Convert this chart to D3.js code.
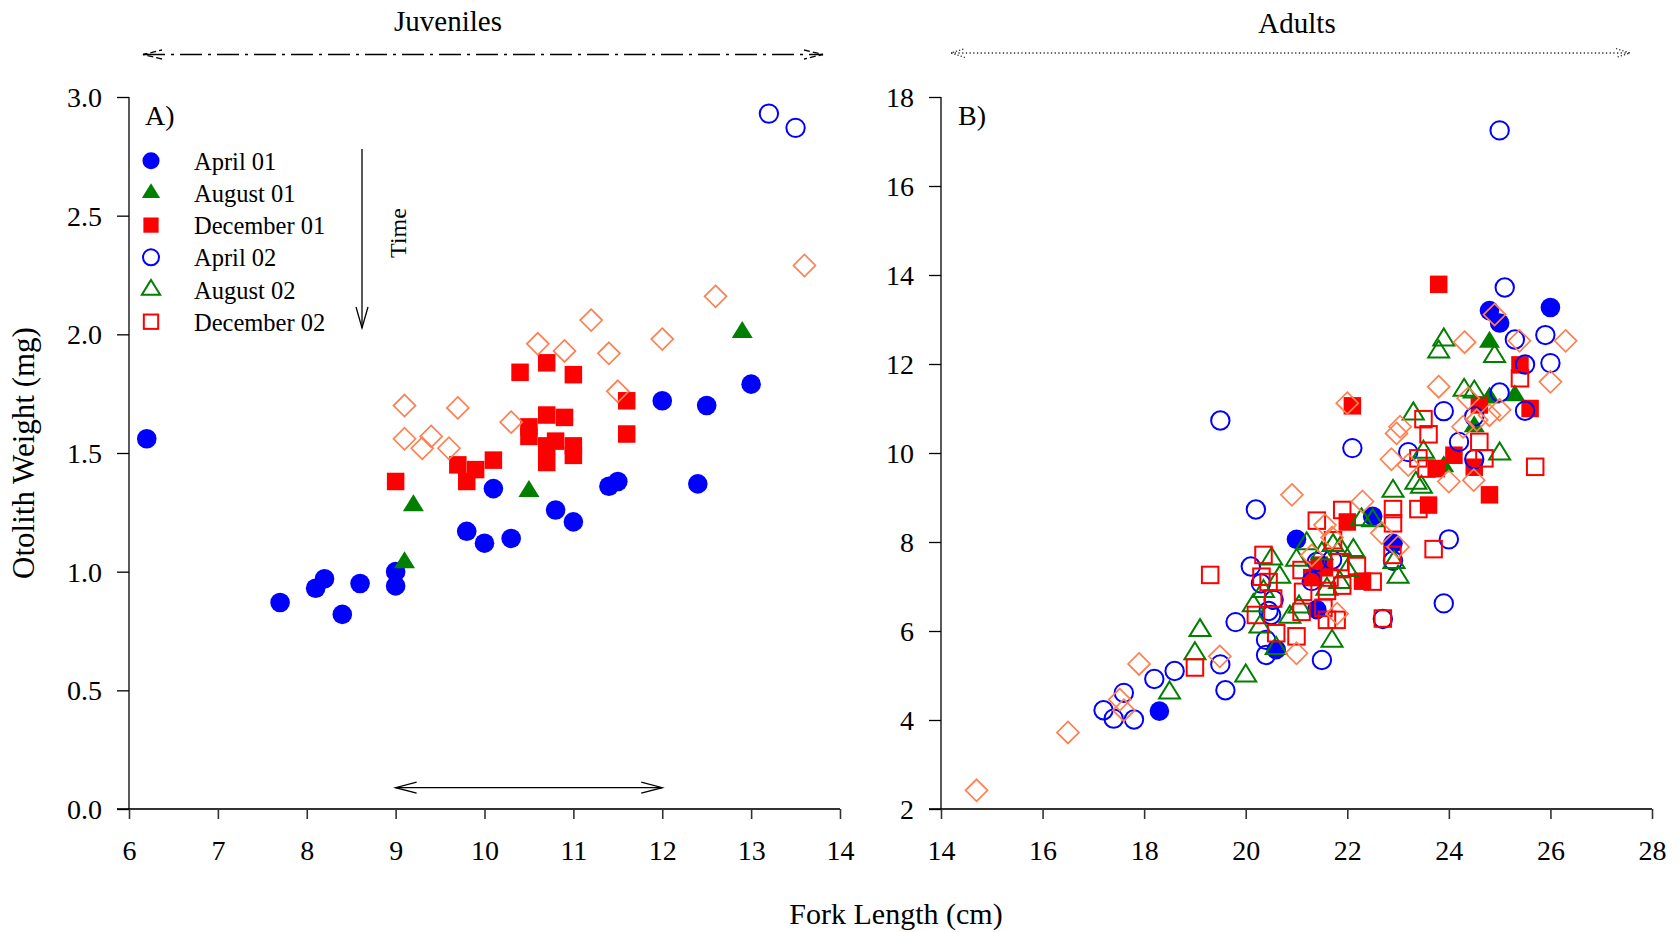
<!DOCTYPE html>
<html><head><meta charset="utf-8">
<script src="https://cdn.jsdelivr.net/npm/d3@7"></script>
<style>
html,body{margin:0;padding:0;background:#fff;}
text{font-family:"Liberation Serif","Times New Roman",serif;fill:#000;}
</style></head>
<body><svg id="chart" width="1679" height="932"></svg>
<script>
// ---------------- DATA ----------------
const seriesNames = ["April 01","August 01","December 01","April 02","August 02","December 02"];
const xTicksA = [6,7,8,9,10,11,12,13,14];
const yTicksA = [0,0.5,1.0,1.5,2.0,2.5,3.0];
const xTicksB = [14,16,18,20,22,24,26,28];
const yTicksB = [2,4,6,8,10,12,14,16,18];
const panelLabels = ["A)","B)"];
const groupTitles = ["Juveniles","Adults"];
const xTitle = "Fork Length (cm)";
const yTitle = "Otolith Weight (mg)";
const timeLabel = "Time";
const juvRangeArrow = [9,12,0.09];

// Juveniles (panel A)
const juvApril01 = [[6.2,1.56],[7.7,0.87],[8.1,0.93],[8.2,0.97],[8.4,0.82],[8.6,0.95],[9.0,1.0],[9.0,0.94],[9.8,1.17],[10.0,1.12],[10.3,1.14],[10.1,1.35],[10.8,1.26],[11.0,1.21],[11.4,1.36],[11.5,1.38],[12.0,1.72],[12.5,1.70],[12.4,1.37],[13.0,1.79]];
const juvAugust01 = [[9.1,1.04],[9.2,1.28],[10.5,1.34],[12.9,2.01]];
const juvDecember01 = [[9.0,1.38],[9.7,1.45],[9.8,1.38],[9.9,1.43],[10.1,1.47],[10.4,1.84],[10.5,1.61],[10.5,1.57],[10.7,1.88],[10.7,1.66],[10.7,1.53],[10.7,1.46],[10.8,1.55],[10.9,1.65],[11.0,1.83],[11.0,1.53],[11.0,1.49],[11.6,1.72],[11.6,1.58]];
const juvApril02 = [[13.2,2.93],[13.5,2.87]];
const juvAugust02 = [];
const juvDecember02 = [];
const juvOther = [[9.1,1.70],[9.7,1.69],[9.1,1.56],[9.3,1.52],[9.4,1.57],[9.6,1.52],[10.3,1.63],[10.6,1.96],[10.9,1.93],[11.2,2.06],[11.4,1.92],[11.5,1.76],[12.0,1.98],[12.6,2.16],[13.6,2.29]];

// Adults (panel B)
const adultApril01 = [[18.3,4.2],[20.6,5.58],[21.4,6.48],[21.0,8.06],[22.5,8.58],[22.9,7.97],[24.8,13.2],[25.0,12.92],[26.0,13.27]];
const adultAugust01 = [[24.8,12.5],[24.8,11.25],[25.3,11.3],[24.5,10.6],[23.9,9.7]];
const adultDecember01 = [[23.8,13.79],[25.4,11.98],[24.6,11.08],[25.6,11.0],[22.1,11.06],[24.1,9.95],[23.75,9.65],[24.5,9.68],[24.8,9.06],[23.6,8.83],[22.0,8.45],[21.45,7.48],[21.55,7.42],[21.3,7.2],[22.3,7.12]];
const adultApril02 = [[25.0,17.25],[25.1,13.72],[25.3,12.55],[25.9,12.65],[25.5,11.99],[26.0,12.02],[25.0,11.36],[25.5,10.95],[23.9,10.94],[24.5,10.82],[24.2,10.25],[22.1,10.11],[23.2,10.02],[24.5,9.86],[19.5,10.73],[20.2,8.73],[24.0,8.06],[22.9,7.58],[21.7,7.6],[20.1,7.45],[21.3,7.12],[20.3,7.07],[20.55,6.7],[23.9,6.62],[22.7,6.27],[20.5,6.36],[20.45,6.45],[19.8,6.2],[20.4,5.8],[20.4,5.46],[21.5,5.35],[19.5,5.25],[19.6,4.67],[18.2,4.92],[18.6,5.1],[17.6,4.61],[17.2,4.22],[17.4,4.03],[17.8,4.01],[21.4,7.55]];
const adultAugust02 = [[23.9,12.55],[23.8,12.28],[24.9,12.18],[24.3,11.42],[24.5,11.38],[23.3,10.89],[23.5,10.03],[25.0,9.99],[23.35,9.33],[23.46,9.24],[22.9,9.15],[22.28,8.51],[22.5,8.49],[21.2,7.97],[21.72,7.93],[21.86,7.86],[22.12,7.82],[21.0,7.6],[22.0,7.37],[23.0,7.22],[22.92,7.55],[20.51,7.63],[20.67,7.22],[20.15,6.58],[19.1,6.02],[19.0,5.5],[18.5,4.62],[20.0,5.0],[21.7,5.78],[20.6,5.62],[20.28,6.1],[20.87,6.32],[21.05,6.55],[21.6,6.95],[21.85,7.1],[20.35,6.9],[21.5,7.75]];
const adultDecember02 = [[25.4,11.68],[23.5,10.76],[23.6,10.42],[24.6,10.25],[23.4,9.88],[24.7,9.88],[25.7,9.69],[23.56,9.65],[22.9,8.74],[23.4,8.74],[22.9,8.42],[21.9,8.72],[21.4,8.48],[21.72,8.04],[22.89,7.71],[23.7,7.84],[22.19,7.46],[22.5,7.11],[21.1,7.37],[20.35,7.71],[20.31,7.22],[20.45,7.1],[19.3,7.26],[21.13,6.88],[21.6,6.9],[21.9,7.02],[20.54,6.73],[21.1,6.43],[20.2,6.36],[22.7,6.28],[21.6,6.25],[21.79,6.25],[20.6,5.95],[21.0,5.88],[19.0,5.18],[21.53,6.52],[21.85,7.55],[21.65,7.2]];
const adultOther = [[14.7,2.42],[16.5,3.72],[17.52,4.46],[17.6,4.22],[17.9,5.26],[19.49,5.43],[21.0,5.5],[20.91,9.06],[21.56,8.38],[22.3,8.91],[22.0,11.12],[22.68,8.2],[23.0,7.89],[21.8,6.39],[23.8,11.49],[24.31,12.49],[25.39,12.52],[26.3,12.52],[26.0,11.6],[24.9,13.11],[24.38,11.23],[24.8,10.85],[25.0,10.97],[23.04,10.59],[22.97,10.44],[24.28,10.59],[24.55,10.74],[22.87,9.86],[23.2,9.73],[24.0,9.36],[24.49,9.39],[21.3,7.7],[21.7,8.1]];

// ---------------- STYLE ----------------
const BLUE="#0000ff", GREEN="#007f00", RED="#ff0000", ORANGE="#ff7f50";
const markerStyles = [
  {type:"circle", fill:true, color:BLUE},
  {type:"tri", fill:true, color:GREEN},
  {type:"square", fill:true, color:RED},
  {type:"circle", fill:false, color:BLUE},
  {type:"tri", fill:false, color:GREEN},
  {type:"square", fill:false, color:RED},
  {type:"diamond", fill:false, color:ORANGE}
];

const svg = d3.select("#chart");
svg.append("rect").attr("width",1679).attr("height",932).attr("fill","#fff");

function drawMarker(g, st, cx, cy, s){
  s = s || 1;
  const sw = st.fill ? 0 : 2;
  let el;
  if(st.type==="circle"){
    el = g.append("circle").attr("cx",cx).attr("cy",cy).attr("r",(st.fill?9.8:9.2)*s);
  } else if(st.type==="square"){
    const a = (st.fill?17.5:16.5)*s;
    el = g.append("rect").attr("x",cx-a/2).attr("y",cy-a/2).attr("width",a).attr("height",a);
  } else if(st.type==="tri"){
    const p = d3.path();
    p.moveTo(cx, cy-11*s); p.lineTo(cx+10.5*s, cy+6*s); p.lineTo(cx-10.5*s, cy+6*s); p.closePath();
    el = g.append("path").attr("d",p.toString()).attr("stroke-linejoin","miter");
  } else {
    const d = 11*s, p = d3.path();
    p.moveTo(cx, cy-d); p.lineTo(cx+d, cy); p.lineTo(cx, cy+d); p.lineTo(cx-d, cy); p.closePath();
    el = g.append("path").attr("d",p.toString());
  }
  if(st.fill){ el.attr("fill",st.color); }
  else { el.attr("fill","none").attr("stroke",st.color).attr("stroke-width", st.type==="diamond"?1.7:sw); }
}

function panel(xs, ys, xTicks, yTicks, yFmt, seriesList, label, labelX){
  const g = svg.append("g");
  const xAx = g.append("g").attr("transform",`translate(0,${ys.range()[0]})`)
    .call(d3.axisBottom(xs).tickValues(xTicks).tickSize(10).tickSizeOuter(0).tickFormat(d3.format("d")));
  xAx.select(".domain").remove();
  xAx.selectAll(".tick line").attr("stroke","#333").attr("stroke-width",1.6);
  xAx.selectAll("text").attr("y",51).attr("dy",null).style("font-size","28px").style("font-family","Liberation Serif");
  g.append("line").attr("x1",xs.range()[0]-12).attr("x2",xs.range()[1])
    .attr("y1",ys.range()[0]).attr("y2",ys.range()[0]).attr("stroke","#333").attr("stroke-width",2.2);
  const yAx = g.append("g").attr("transform",`translate(${xs.range()[0]},0)`)
    .call(d3.axisLeft(ys).tickValues(yTicks).tickSize(12).tickSizeOuter(0).tickFormat(yFmt));
  yAx.select(".domain").remove();
  yAx.selectAll(".tick line").attr("stroke","#000").attr("stroke-width",1.3);
  yAx.selectAll("text").attr("x",-27).attr("dy","0.34em").style("font-size","28px").style("font-family","Liberation Serif");
  g.append("line").attr("x1",xs.range()[0]).attr("x2",xs.range()[0])
    .attr("y1",ys.range()[0]).attr("y2",ys.range()[1]).attr("stroke","#000").attr("stroke-width",1.3);
  g.append("text").attr("x",labelX).attr("y",125).style("font-size","28px").text(label);
  const pg = g.append("g");
  seriesList.forEach((data, i) => {
    data.forEach(d => drawMarker(pg, markerStyles[i], xs(d[0]), ys(d[1]), 1));
  });
  return g;
}

const xA = d3.scaleLinear().domain([6,14]).range([129,840]);
const yA = d3.scaleLinear().domain([0,3]).range([809,97]);
const xB = d3.scaleLinear().domain([14,28]).range([941,1652]);
const yB = d3.scaleLinear().domain([2,18]).range([809,97]);

panel(xA, yA, xTicksA, yTicksA, d3.format(".1f"),
  [juvApril01,juvAugust01,juvDecember01,juvApril02,juvAugust02,juvDecember02,juvOther], panelLabels[0], 145);
panel(xB, yB, xTicksB, yTicksB, d3.format("d"),
  [adultApril01,adultAugust01,adultDecember01,adultApril02,adultAugust02,adultDecember02,adultOther], panelLabels[1], 958);

// legend
const lg = svg.append("g");
seriesNames.forEach((nm,i)=>{
  const cy = 160.7 + i*32.2;
  drawMarker(lg, markerStyles[i], 151, cy, 0.87);
  lg.append("text").attr("x",194).attr("y",cy+9).style("font-size","24.5px").text(nm);
});

function openHead(g, tip, back, half, dash, color, sw){
  const [tx,ty]=tip, [dx,dy]=back;
  const L=Math.hypot(dx,dy), ux=dx/L, uy=dy/L, px=-uy, py=ux;
  const bx=tx+ux*back[2], by=ty+uy*back[2];
  const p=d3.path();
  p.moveTo(bx+px*half, by+py*half); p.lineTo(tx,ty); p.lineTo(bx-px*half, by-py*half);
  const el=g.append("path").attr("d",p.toString()).attr("fill","none").attr("stroke",color).attr("stroke-width",sw);
  if(dash) el.attr("stroke-dasharray",dash);
}
const ag = svg.append("g");
ag.append("line").attr("x1",362).attr("x2",362).attr("y1",149).attr("y2",328).attr("stroke","#000").attr("stroke-width",1.3);
openHead(ag,[362,328],[0,-1,21],6,null,"#000",1.3);
ag.append("text").attr("transform","translate(406,233) rotate(-90)").attr("text-anchor","middle")
  .style("font-size","24px").text(timeLabel);

const ry = yA(juvRangeArrow[2]);
ag.append("line").attr("x1",xA(juvRangeArrow[0])).attr("x2",xA(juvRangeArrow[1])).attr("y1",ry).attr("y2",ry)
  .attr("stroke","#000").attr("stroke-width",1.3);
openHead(ag,[xA(juvRangeArrow[0]),ry],[1,0,21],5.5,null,"#000",1.3);
openHead(ag,[xA(juvRangeArrow[1]),ry],[-1,0,21],5.5,null,"#000",1.3);

const jy=54.5;
ag.append("line").attr("x1",143).attr("x2",823).attr("y1",jy).attr("y2",jy)
  .attr("stroke","#000").attr("stroke-width",1.3).attr("stroke-dasharray","22,6,3,6");
openHead(ag,[143,jy],[1,0,19],4.5,"6,3","#000",1.3);
openHead(ag,[823,jy],[-1,0,19],4.5,"6,3","#000",1.3);
const ady=53;
ag.append("line").attr("x1",951).attr("x2",1630).attr("y1",ady).attr("y2",ady)
  .attr("stroke","#333").attr("stroke-width",1.3).attr("stroke-dasharray","1.3,2.4");
openHead(ag,[951,ady],[1,0,14],4.5,"1.3,2","#333",1.3);
openHead(ag,[1630,ady],[-1,0,14],4.5,"1.3,2","#333",1.3);

svg.append("text").attr("x",448).attr("y",31).attr("text-anchor","middle").style("font-size","29px").text(groupTitles[0]);
svg.append("text").attr("x",1297).attr("y",33).attr("text-anchor","middle").style("font-size","29px").text(groupTitles[1]);

svg.append("text").attr("x",896).attr("y",924).attr("text-anchor","middle").style("font-size","30px").text(xTitle);
svg.append("text").attr("transform","translate(34,453) rotate(-90)").attr("text-anchor","middle")
  .style("font-size","31px").text(yTitle);
</script>
</body></html>
